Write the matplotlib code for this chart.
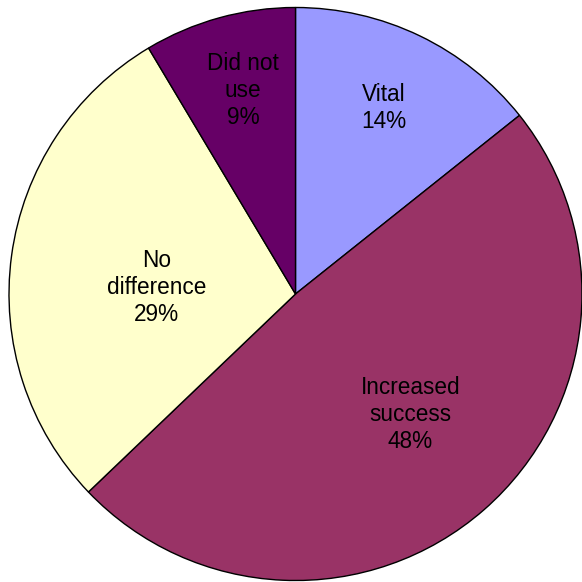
import numpy as np
import matplotlib.pyplot as plt

labels = ["Vital", "Increased\nsuccess", "No\ndifference", "Did not\nuse"]
counts = [5, 17, 10, 3]
pct_text = ["14%", "48%", "29%", "9%"]
colors = ["#9999FF", "#993366", "#FFFFCC", "#660066"]
# label placement: fraction of radius, and small turn off the slice middle (deg)
label_dist = [0.72, 0.58, 0.485, 0.735]
label_turn = [0.3, 2.6, 5.2, -1.0]

fig = plt.figure(figsize=(5.82, 5.82), dpi=100)
ax = fig.add_axes([9 / 582, 1.5 / 582, 573 / 582, 573 / 582])

wedges, _ = ax.pie(counts, colors=colors, startangle=90, counterclock=False,
                   wedgeprops=dict(edgecolor="black", linewidth=1.0))

for w, lab, p, d, t in zip(wedges, labels, pct_text, label_dist, label_turn):
    ang = np.deg2rad((w.theta1 + w.theta2) / 2 + t)
    ax.text(d * np.cos(ang), d * np.sin(ang), lab + "\n" + p,
            ha="center", va="center", fontsize=16.3, family="Liberation Sans",
            linespacing=1.22, color="black")

ax.set_xlim(-1, 1)
ax.set_ylim(-1, 1)
ax.set_aspect("equal")
ax.axis("off")

fig.savefig("out.png", dpi=100)
